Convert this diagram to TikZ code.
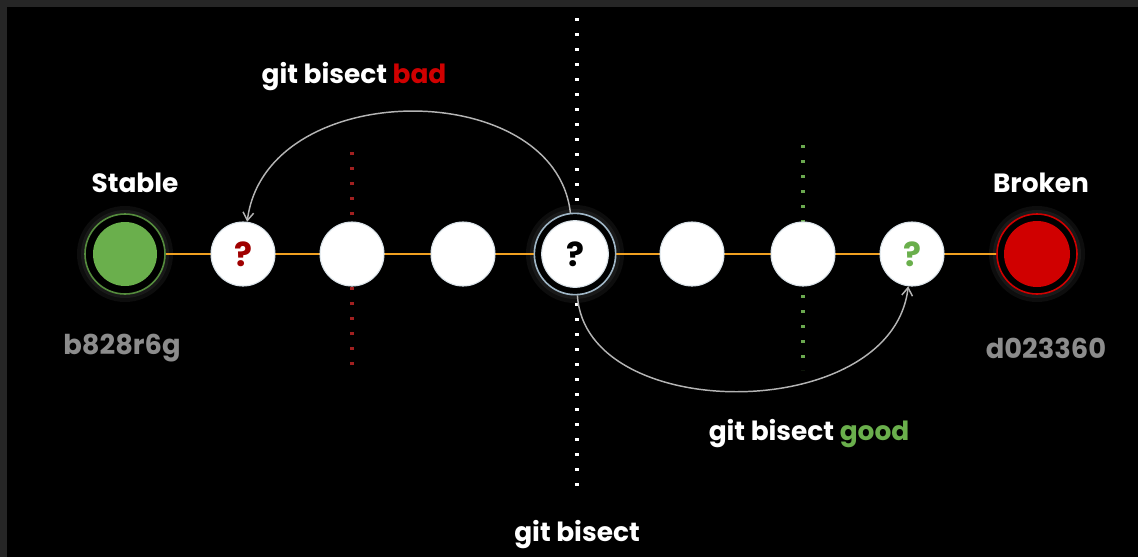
\documentclass[tikz,border=0pt]{standalone}
\usepackage{fontspec}
\setmainfont{Poppins}
\usetikzlibrary{arrows.meta}
\definecolor{frame}{HTML}{262626}
\definecolor{okgreen}{HTML}{6AAF4C}
\definecolor{badred}{HTML}{D00000}
\definecolor{lineorange}{HTML}{F0A020}
\definecolor{hashgray}{HTML}{8C8C8C}
\definecolor{arcgray}{HTML}{B4B4B4}
\definecolor{dotred}{HTML}{A02020}
\definecolor{dotgreen}{HTML}{6AA84F}
\definecolor{qred}{HTML}{A00000}
\definecolor{ringblue}{HTML}{9FB6C6}
\tikzset{
  commit/.style={circle, fill=white, draw=ringblue!40, line width=0.8pt, minimum size=48pt, inner sep=0pt, font=\bfseries\fontsize{25}{26}\selectfont},
  endnode/.style={circle, minimum size=50pt, inner sep=0pt},
  title/.style={text=white, font=\bfseries\fontsize{19.8}{22}\selectfont},
  hash/.style={text=hashgray, font=\bfseries\fontsize{20.5}{22}\selectfont},
  dots/.style={line width=2.6pt, dash pattern=on 2.4pt off 8.85pt},
  arc/.style={draw=arcgray, line width=1.1pt, -{Straight Barb[length=6pt,width=8pt]}}
}
\begin{document}
\begin{tikzpicture}[x=0.75pt, y=-0.75pt]
\fill[black] (0,0) rectangle (1138,557);
\fill[frame] (0,0) rectangle (1138,7);
\fill[frame] (0,0) rectangle (7,557);
\useasboundingbox (0,0) rectangle (1138,557);

% dotted guide lines (behind nodes)
\draw[dots, white] (577,18) -- (577,492);
\draw[dots, dotred] (352,152) -- (352,376);
\draw[dots, dotgreen] (803,145) -- (803,370);

% glows
\foreach \x/\r in {125/48, 575/49, 1037/48}{
  \fill[white, opacity=0.05] (\x,254) circle (\r);
  \fill[white, opacity=0.05] (\x,254) circle (\r-4);
}

% orange connector line
\coordinate (L) at (125,254);
\coordinate (R) at (1037,254);
\draw[lineorange, line width=2.2pt] (L) -- (R);

% end nodes
\node[endnode, fill=black, draw=okgreen!80!black, line width=1.2pt, minimum size=60pt] (stable) at (125,254) {};
\fill[okgreen] (stable.center) circle (32);
\node[endnode, fill=black, draw=badred, line width=1.2pt, minimum size=60pt] (broken) at (1037,254) {};
\fill[badred] (broken.center) circle (33);

% commits
\node[commit, text=qred] (c1) at (243,254) {?};
\node[commit] (c2) at (352,254) {};
\node[commit] (c3) at (463,254) {};
\node[circle, fill=black, draw=ringblue, line width=1.2pt, minimum size=61pt, inner sep=0pt] (c4ring) at (575,254) {};
\node[commit, text=black, minimum size=50pt] (c4) at (575,254) {?};
\node[commit] (c5) at (692,254) {};
\node[commit] (c6) at (803,254) {};
\node[commit, text=okgreen] (c7) at (912,254) {?};

% labels
\node[title] (lstable) at (135,183) {Stable};
\node[title] (lbroken) at (1041,183) {Broken};
\node[hash] (hstable) at (122,348) {b828r6g};
\node[hash] (hbroken) at (1046,348) {d023360};
\node[title] (lbad) at (354,77) {git bisect \textcolor{badred}{bad}};
\node[title] (lgood) at (809,434) {git bisect \textcolor{okgreen}{good}};
\node[title] (lbis) at (577,535) {git bisect};

% arcs
\draw[arc] (c4ring) .. controls (555,76) and (266,76) .. (c1);
\draw[arc] (c4ring) .. controls (585,425) and (892,425) .. (c7);
\end{tikzpicture}
\end{document}
